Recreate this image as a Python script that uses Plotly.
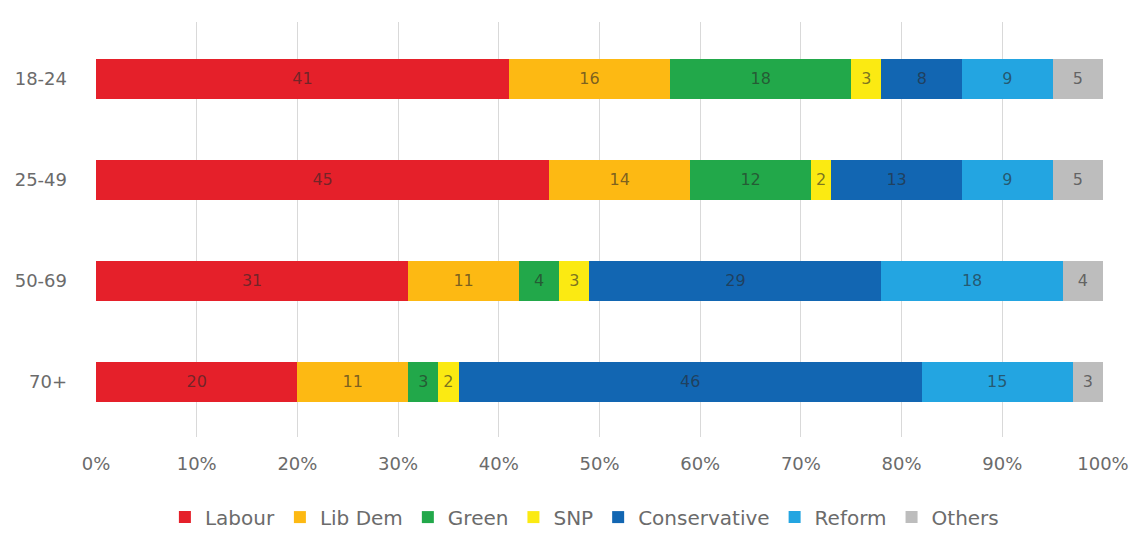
import plotly.graph_objects as go

age_groups = ["18-24", "25-49", "50-69", "70+"]
parties = ["Labour", "Lib Dem", "Green", "SNP", "Conservative", "Reform", "Others"]
labour = [41, 45, 31, 20]
lib_dem = [16, 14, 11, 11]
green = [18, 12, 4, 3]
snp = [3, 2, 3, 2]
conservative = [8, 13, 29, 46]
reform = [9, 9, 18, 15]
others = [5, 5, 4, 3]
series = [labour, lib_dem, green, snp, conservative, reform, others]
colors = ["#E5202A", "#FDB913", "#22A84A", "#FBEA12", "#1266B2", "#23A5E1", "#BDBDBD"]
x_ticks = [0, 10, 20, 30, 40, 50, 60, 70, 80, 90, 100]

FONT = "DejaVu Sans, Verdana, sans-serif"

fig = go.Figure()
for name, vals, col in zip(parties, series, colors):
    fig.add_trace(go.Bar(
        y=age_groups, x=vals, name=name, orientation="h",
        marker=dict(color=col, line=dict(width=0)),
        text=[str(v) for v in vals], textposition="inside",
        insidetextanchor="middle", textangle=0,
        textfont=dict(color="rgba(40,40,40,0.62)", size=16, family=FONT),
        constraintext="none",
    ))

# page has an 8px body margin, so the figure is drawn 8px smaller and margins shifted
fig.update_layout(
    barmode="stack",
    bargap=0.6,
    width=1134, height=525,
    margin=dict(l=88, r=39, t=14, b=96, autoexpand=False),
    plot_bgcolor="white", paper_bgcolor="white",
    font=dict(family=FONT, color="#6b6b6b", size=18),
    legend=dict(orientation="h", x=0.485, xanchor="center", y=-0.193, yanchor="middle",
                font=dict(size=20, color="#6b6b6b"), traceorder="normal",
                itemwidth=30, tracegroupgap=0),
    showlegend=True,
)
fig.update_xaxes(range=[0, 100], tickvals=x_ticks, ticktext=[f"{v}%" for v in x_ticks],
                 showgrid=True, gridcolor="#D9D9D9", gridwidth=1, zeroline=False,
                 showline=False, ticks="", ticklabelstandoff=14, automargin=False)
fig.update_yaxes(range=[3.545, -0.564], showgrid=False, showline=False, ticks="",
                 ticklabelstandoff=28, automargin=False)

fig.write_html("out.html")
